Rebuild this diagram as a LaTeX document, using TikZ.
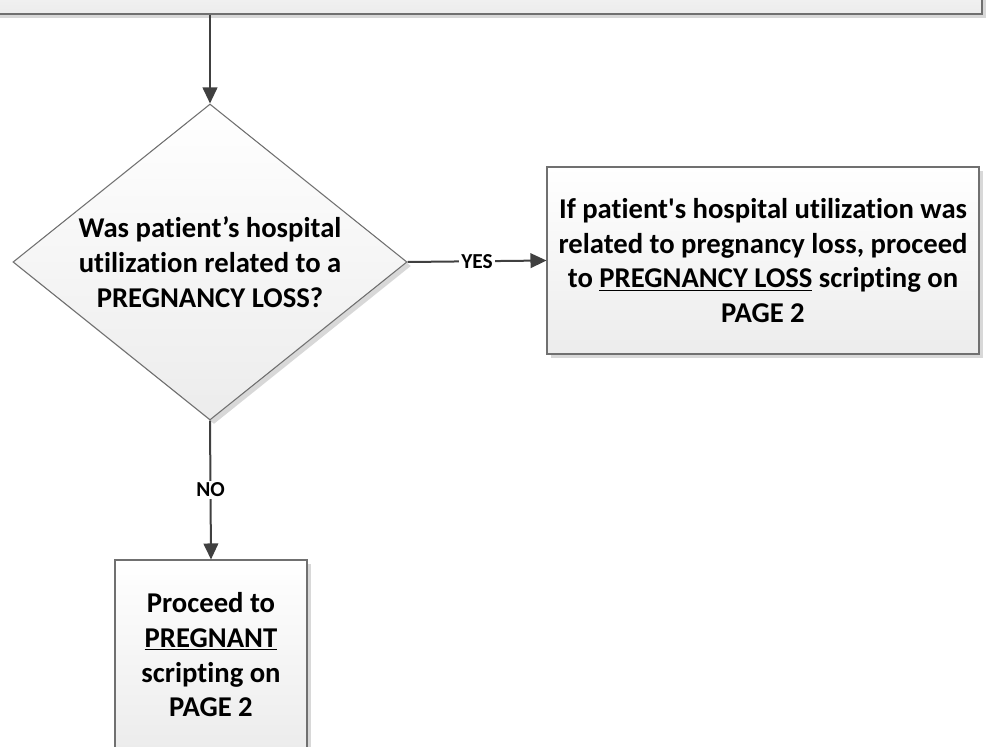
\documentclass[tikz,border=0pt]{standalone}
\usepackage{fontspec}
\setmainfont{Carlito}[Ligatures={TeX,NoCommon}]
\usetikzlibrary{arrows.meta,positioning,shapes.geometric,shadows}
\definecolor{fcgray}{RGB}{64,64,64}
\definecolor{fcline}{RGB}{112,112,112}
\definecolor{fcfill}{RGB}{236,236,236}
\definecolor{fcshadow}{RGB}{216,216,216}

\begin{document}
\begin{tikzpicture}[x=0.75pt, y=-0.75pt, >={Triangle[length=12pt,width=11pt]},
  box/.style={draw=fcline, line width=0.8pt, top color=white, bottom color=fcfill,
    drop shadow={shadow xshift=3pt, shadow yshift=-3pt, fill=fcshadow, opacity=1},
    inner sep=0pt, font=\bfseries\fontsize{21.5}{26}\selectfont, align=center},
  flow/.style={->, fcgray, line width=1.5pt},
  tag/.style={fill=white, text=black, inner sep=1.5pt, font=\bfseries\fontsize{16}{18}\selectfont}]
  \useasboundingbox (0,0) rectangle (988,746);
  \clip (0,0) rectangle (988,746);
  % step above, cut off by the page
  \node[box, minimum width=744pt, minimum height=52.5pt] (prev) at (486,-21) {};
  % decision
  \node[box, shape=diamond, aspect=1.25, minimum width=295.5pt, minimum height=237pt]
    (qloss) at (210,262) {Was patient’s hospital\\utilization related to a\\PREGNANCY LOSS?};
  % yes branch
  \node[box, minimum width=324pt, minimum height=140.25pt] (lossbox) at (763,260.5)
    {If patient\textquotesingle s hospital utilization was\\related to pregnancy loss, proceed\\to \underline{PREGNANCY LOSS} scripting on\\PAGE 2};
  % no branch
  \node[box, minimum width=144pt, minimum height=142.5pt]
    (pregbox) at (211,655) {Proceed to\\\underline{PREGNANT}\\scripting on\\PAGE 2};
  % connectors
  \draw[flow] (prev.south -| qloss.north) -- (qloss.north);
  \draw[flow] (qloss.east) -- node[tag]{YES} (lossbox.west);
  \draw[flow] (qloss.south) -- node[tag]{NO} (pregbox.north);
\end{tikzpicture}
\end{document}
